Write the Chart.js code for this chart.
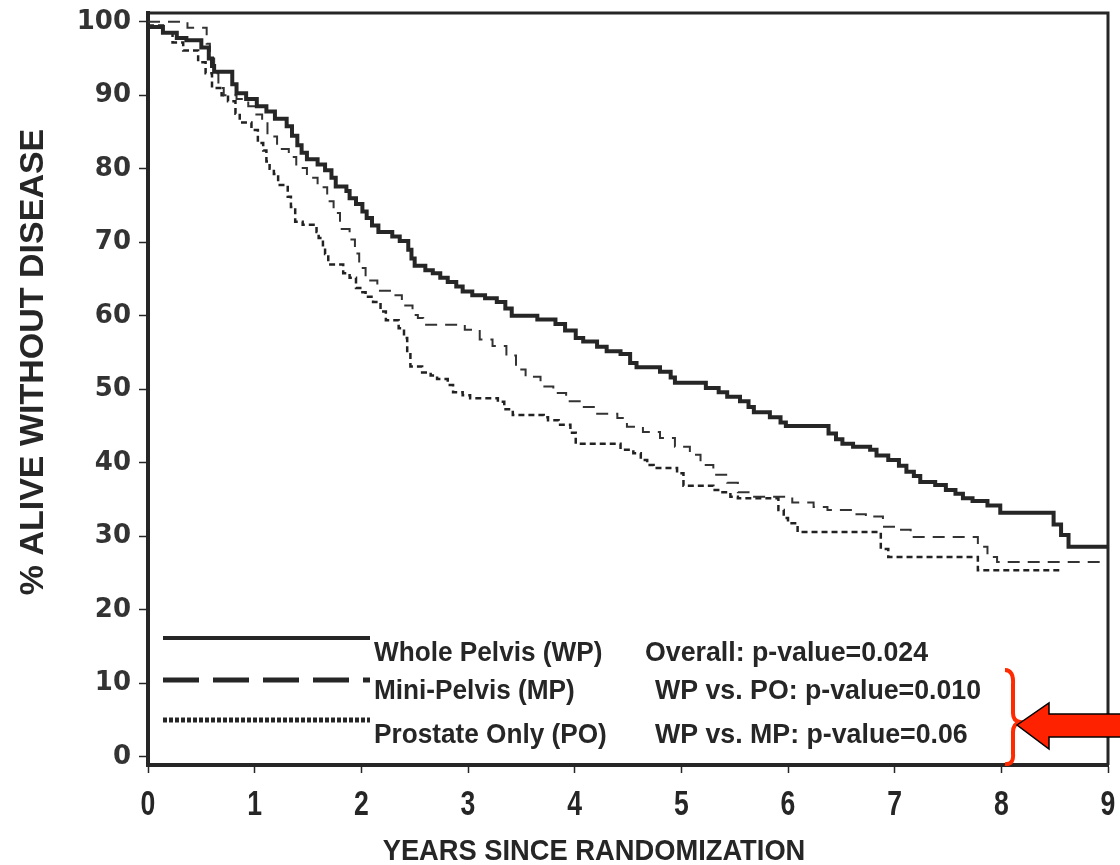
<!DOCTYPE html>
<html lang="en">
<head>
<meta charset="UTF-8">
<title>% Alive Without Disease</title>
<script src="https://cdn.jsdelivr.net/npm/chart.js"></script>
<style>
body{margin:0;background:#fff;}
</style>
</head>
<body>
<canvas id="kmChart" width="1120" height="865"></canvas>
<script>
// axis ticks
const yearTicks = [0,1,2,3,4,5,6,7,8,9];
const pctTicks = [0,10,20,30,40,50,60,70,80,90,100];

// Whole Pelvis (WP) - solid
const wpYears = [0,0.14,0.27,0.36,0.50,0.57,0.60,0.62,0.79,0.83,0.92,1.02,1.11,1.19,1.30,1.35,1.40,1.44,1.49,1.59,1.66,1.72,1.76,1.86,1.89,1.95,2.01,2.05,2.10,2.16,2.29,2.36,2.44,2.47,2.50,2.60,2.67,2.74,2.81,2.89,2.95,3.04,3.16,3.27,3.35,3.41,3.65,3.82,3.91,4.01,4.08,4.21,4.30,4.43,4.52,4.58,4.80,4.90,4.94,5.23,5.35,5.43,5.55,5.63,5.68,5.83,5.93,5.98,6.38,6.45,6.51,6.61,6.77,6.83,6.94,7.04,7.11,7.18,7.24,7.38,7.48,7.57,7.64,7.73,7.87,7.99,8.49,8.56,8.63,9.0];
const wpPct = [99.3,98.5,97.8,97.5,96.5,95.0,94.0,93.2,91.5,90.3,89.5,88.5,87.8,86.8,85.8,84.5,83.2,82.2,81.3,80.6,79.8,78.8,77.6,77.0,76.0,75.2,74.2,73.3,72.3,71.4,70.8,70.2,69.0,67.8,66.8,66.2,65.8,65.2,64.6,64.0,63.3,62.8,62.4,61.9,61.0,60.0,59.5,58.9,58.0,57.0,56.5,55.8,55.2,54.8,53.6,53.0,52.4,51.6,50.9,50.2,49.6,49.0,48.4,47.6,46.9,46.2,45.5,45.0,44.0,43.2,42.6,42.2,41.8,41.0,40.4,39.6,38.8,38.2,37.4,37.0,36.3,35.8,35.2,34.8,34.2,33.2,31.6,30.2,28.6,28.6];

// Mini-Pelvis (MP) - long dashes
const mpYears = [0,0.37,0.55,0.58,0.62,0.66,0.71,0.83,0.94,1.00,1.07,1.12,1.21,1.32,1.39,1.49,1.59,1.68,1.74,1.80,1.89,1.94,1.98,2.04,2.15,2.32,2.38,2.48,2.53,2.58,2.97,3.11,3.23,3.36,3.45,3.54,3.68,3.80,3.92,4.07,4.20,4.40,4.49,4.64,4.80,4.94,5.08,5.18,5.30,5.43,5.53,5.65,6.04,6.24,6.37,6.61,6.73,6.89,7.03,7.15,7.78,7.87,7.96,9.0];
const mpPct = [100,99.2,97.0,95.0,93.0,91.0,90.0,89.5,88.5,87.4,86.4,84.4,82.7,81.6,80.1,78.8,77.5,75.6,74.0,71.8,70.4,68.5,66.5,64.8,63.4,62.8,61.4,60.1,59.7,58.8,58.1,56.8,55.9,54.6,52.7,51.7,50.4,49.5,48.4,47.6,46.7,46.1,44.9,44.2,43.4,42.2,41.1,39.7,38.4,37.3,36.0,35.4,34.6,34.0,33.6,33.0,32.7,31.3,30.9,29.9,28.6,27.2,26.5,26.5];

// Prostate Only (PO) - dotted
const poYears = [0,0.14,0.23,0.33,0.47,0.54,0.60,0.69,0.75,0.82,0.86,0.97,1.03,1.08,1.11,1.14,1.18,1.22,1.31,1.34,1.38,1.45,1.58,1.60,1.64,1.66,1.69,1.83,1.89,1.95,1.99,2.04,2.11,2.18,2.23,2.35,2.40,2.43,2.46,2.57,2.65,2.71,2.81,2.86,2.95,3.02,3.28,3.34,3.42,3.71,3.75,3.85,3.96,4.01,4.43,4.55,4.62,4.68,4.74,4.96,5.02,5.30,5.37,5.46,5.53,5.91,5.96,6.00,6.09,6.87,6.94,7.78,8.56];
const poPct = [99.5,98.5,97.2,96.1,94.5,93.0,91.0,90.0,89.2,87.5,86.3,85.3,83.5,82.5,81.0,80.0,79.3,77.8,76.2,74.8,72.8,72.4,71.4,70.6,69.6,68.4,67.0,65.8,65.2,63.8,63.2,62.6,61.9,60.6,59.4,58.3,57.0,55.0,53.1,52.3,51.9,51.4,50.6,49.6,49.2,48.8,48.3,47.3,46.5,46.2,45.8,45.2,44.1,42.6,41.8,41.3,40.4,39.7,39.3,38.6,36.9,36.3,36.0,35.4,35.2,33.6,32.5,31.8,30.6,28.3,27.2,25.4,25.4];

const legendNames = ["Whole Pelvis (WP)","Mini-Pelvis (MP)","Prostate Only (PO)"];
const pValueNotes = ["Overall: p-value=0.024","WP vs. PO: p-value=0.010","WP vs. MP: p-value=0.06"];

const ink = "#262626";
const sans = "'Liberation Sans', Arial, sans-serif";

function pts(xs, ys){ return xs.map((x,i)=>({x:x, y:ys[i]})); }

// squeezed text (no narrow font installed)
function narrowText(ctx, txt, x, y, sx){
    ctx.save();
    ctx.translate(x, y);
    ctx.scale(sx, 1);
    ctx.fillText(txt, 0, 0);
    ctx.restore();
}

// frame, x tick labels, inside legend, axis titles and the red marker
const extras = {
    id:"extras",
    afterDraw(chart){
        const ctx = chart.ctx;
        const a = chart.chartArea;
        const xs = chart.scales.x;
        ctx.save();

        // top + right border
        ctx.strokeStyle = ink;
        ctx.lineWidth = 3;
        ctx.beginPath();
        ctx.moveTo(a.left, a.top);
        ctx.lineTo(a.right, a.top);
        ctx.lineTo(a.right, a.bottom);
        ctx.stroke();

        // x tick labels, narrow digits
        ctx.fillStyle = ink;
        ctx.font = "bold 35px " + sans;
        ctx.textAlign = "center";
        ctx.textBaseline = "alphabetic";
        yearTicks.forEach(v=>{
            narrowText(ctx, String(v), xs.getPixelForValue(v), a.bottom + 50, 0.76);
        });

        // legend samples
        const x0 = a.left + 15, x1 = a.left + 222;
        const rows = [a.top + 625, a.top + 667, a.top + 707];
        const styles = [
            {w:4, dash:[]},
            {w:5, dash:[36,14]},
            {w:5, dash:[4,2]}
        ];
        styles.forEach((s,i)=>{
            ctx.beginPath();
            ctx.setLineDash(s.dash);
            ctx.lineWidth = s.w;
            ctx.moveTo(x0, rows[i]);
            ctx.lineTo(x1, rows[i]);
            ctx.stroke();
        });
        ctx.setLineDash([]);

        // legend text
        ctx.font = "bold 27px " + sans;
        ctx.textAlign = "left";
        const textY = [a.top + 648, a.top + 686, a.top + 730];
        const noteX = [a.left + 497, a.left + 507, a.left + 507];
        legendNames.forEach((n,i)=>{
            narrowText(ctx, n, a.left + 226, textY[i], 0.97);
            narrowText(ctx, pValueNotes[i], noteX[i], textY[i], 0.99);
        });

        // red brace
        const bx = a.left + 860;
        ctx.strokeStyle = "#ff2a00";
        ctx.lineWidth = 4;
        ctx.beginPath();
        ctx.moveTo(bx - 3, a.top + 657);
        ctx.quadraticCurveTo(bx + 6, a.top + 657, bx + 5, a.top + 672);
        ctx.lineTo(bx + 5, a.top + 700);
        ctx.quadraticCurveTo(bx + 5, a.top + 708, bx + 12, a.top + 709);
        ctx.quadraticCurveTo(bx + 5, a.top + 711, bx + 5, a.top + 719);
        ctx.lineTo(bx + 5, a.top + 740);
        ctx.quadraticCurveTo(bx + 6, a.top + 752, bx - 3, a.top + 751);
        ctx.stroke();

        // red arrow
        const tipX = a.left + 869, tipY = a.top + 712;
        ctx.fillStyle = "#ff2200";
        ctx.strokeStyle = "#000";
        ctx.lineWidth = 1.5;
        ctx.beginPath();
        ctx.moveTo(tipX, tipY);
        ctx.lineTo(tipX + 32, tipY - 22);
        ctx.lineTo(tipX + 32, tipY - 11);
        ctx.lineTo(1125, tipY - 11);
        ctx.lineTo(1125, tipY + 12);
        ctx.lineTo(tipX + 32, tipY + 12);
        ctx.lineTo(tipX + 32, tipY + 24);
        ctx.closePath();
        ctx.fill();
        ctx.stroke();

        // axis titles
        ctx.fillStyle = ink;
        ctx.font = "bold 30px " + sans;
        ctx.textAlign = "center";
        ctx.textBaseline = "middle";
        narrowText(ctx, "YEARS SINCE RANDOMIZATION", a.left + 446, 852, 0.91);
        ctx.translate(34, a.top + 349);
        ctx.rotate(-Math.PI/2);
        ctx.font = "bold 34px " + sans;
        narrowText(ctx, "% ALIVE WITHOUT DISEASE", 0, 0, 1.0);

        ctx.restore();
    }
};

new Chart(document.getElementById("kmChart"), {
    type:"line",
    data:{
        datasets:[
            {label:legendNames[0], data:pts(wpYears,wpPct), borderColor:ink, borderWidth:4, stepped:true, pointRadius:0},
            {label:legendNames[1], data:pts(mpYears,mpPct), borderColor:"#333", borderWidth:2, borderDash:[12,8], stepped:true, pointRadius:0},
            {label:legendNames[2], data:pts(poYears,poPct), borderColor:"#222", borderWidth:2.5, borderDash:[6,4], stepped:true, pointRadius:0}
        ]
    },
    options:{
        responsive:false,
        animation:false,
        devicePixelRatio:1,
        layout:{padding:{top:13, right:12, left:0, bottom:0}},
        plugins:{legend:{display:false}, tooltip:{enabled:false}},
        scales:{
            x:{
                type:"linear", min:0, max:9,
                afterBuildTicks:(s)=>{ s.ticks = yearTicks.map(v=>({value:v})); },
                afterFit:(s)=>{ s.height = 100; s.paddingLeft = 0; s.paddingRight = 0; },
                grid:{drawOnChartArea:false, drawTicks:true, tickLength:8, tickWidth:1.5, color:ink},
                border:{display:true, width:4, color:ink},
                ticks:{display:false}
            },
            y:{
                min:-1.1, max:101.2,
                afterBuildTicks:(s)=>{ s.ticks = pctTicks.map(v=>({value:v})); },
                afterFit:(s)=>{ s.width = 148; s.paddingTop = 0; s.paddingBottom = 0; },
                grid:{drawOnChartArea:false, drawTicks:true, tickLength:9, tickWidth:1.5, color:ink},
                border:{display:true, width:4, color:ink},
                ticks:{color:"#333", padding:8, font:{family:"'DejaVu Sans', sans-serif", size:26, weight:"bold"}}
            }
        }
    },
    plugins:[extras]
});
</script>
</body>
</html>
